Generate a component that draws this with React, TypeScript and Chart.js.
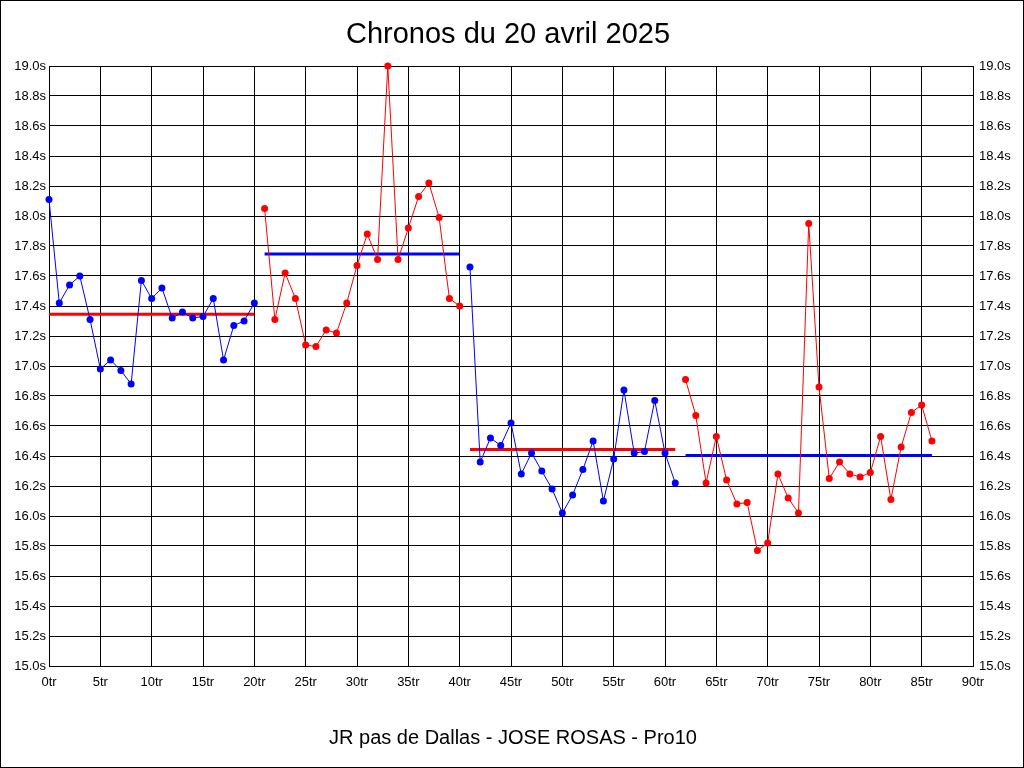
import React, { useEffect, useRef } from "react";
import { Chart, registerables } from "chart.js";

Chart.register(...registerables);

const chartTitle = "Chronos du 20 avril 2025";
const chartSubtitle = "JR pas de Dallas - JOSE ROSAS - Pro10";

// Lap times (seconds), one array per stint
const stintStartLaps = [0, 21, 41, 62];
const stint1Times = [18.11, 17.42, 17.54, 17.6, 17.31, 16.98, 17.04, 16.97, 16.88, 17.57, 17.45, 17.52, 17.32, 17.36, 17.32, 17.33, 17.45, 17.04, 17.27, 17.3, 17.42];
const stint2Times = [18.05, 17.31, 17.62, 17.45, 17.14, 17.13, 17.24, 17.22, 17.42, 17.67, 17.88, 17.71, 19.0, 17.71, 17.92, 18.13, 18.22, 17.99, 17.45, 17.4];
const stint3Times = [17.66, 16.36, 16.52, 16.47, 16.62, 16.28, 16.42, 16.3, 16.18, 16.02, 16.14, 16.31, 16.5, 16.1, 16.38, 16.84, 16.42, 16.43, 16.77, 16.42, 16.22];
const stint4Times = [16.91, 16.67, 16.22, 16.53, 16.24, 16.08, 16.09, 15.77, 15.82, 16.28, 16.12, 16.02, 17.95, 16.86, 16.25, 16.36, 16.28, 16.26, 16.29, 16.53, 16.11, 16.46, 16.69, 16.74, 16.5];
const stintAverages = [17.345, 17.747, 16.444, 16.404];
const stintColors = ["#0000FF", "#FF0000", "#0000FF", "#FF0000"];
const averageColors = ["#FF0000", "#0000FF", "#FF0000", "#0000FF"];

const xMin = 0;
const xMax = 90;
const xStep = 5;
const yMin = 15;
const yMax = 19;
const yStep = 0.2;

const FONT = "'Liberation Sans', Arial, sans-serif";

export default function App() {
  const ref = useRef<HTMLCanvasElement | null>(null);

  useEffect(() => {
    document.body.style.margin = "0";
    const canvas = ref.current;
    if (!canvas) return;

    const stints = [stint1Times, stint2Times, stint3Times, stint4Times];
    const datasets: any[] = [];
    stints.forEach((times, s) => {
      const start = stintStartLaps[s];
      datasets.push({
        label: "stint" + (s + 1),
        data: times.map((t, i) => ({ x: start + i, y: t })),
        borderColor: stintColors[s],
        backgroundColor: stintColors[s],
        borderWidth: 1,
        pointRadius: 3.5,
        pointBorderWidth: 0,
        pointBackgroundColor: stintColors[s],
        tension: 0,
        clip: false,
        order: 1,
      });
    });
    stints.forEach((times, s) => {
      const start = stintStartLaps[s];
      const end = start + times.length - 1;
      datasets.push({
        label: "avg" + (s + 1),
        data: [
          { x: start, y: stintAverages[s] },
          { x: end, y: stintAverages[s] },
        ],
        borderColor: averageColors[s],
        backgroundColor: averageColors[s],
        borderWidth: 3,
        pointRadius: 0,
        tension: 0,
        order: 2,
      });
    });

    const textPlugin = {
      id: "texts",
      afterDraw(chart: any) {
        const ctx = chart.ctx;
        ctx.save();
        ctx.fillStyle = "#000";
        ctx.textAlign = "center";
        ctx.textBaseline = "alphabetic";
        ctx.font = "29px " + FONT;
        ctx.fillText(chartTitle, 508, 43);
        ctx.font = "20px " + FONT;
        ctx.fillText(chartSubtitle, 513, 744);
        ctx.strokeStyle = "#000";
        ctx.lineWidth = 1;
        ctx.strokeRect(0.5, 0.5, 1023, 767);
        ctx.restore();
      },
    };
    const bgPlugin = {
      id: "bg",
      beforeDraw(chart: any) {
        const ctx = chart.ctx;
        ctx.save();
        ctx.fillStyle = "#fff";
        ctx.fillRect(0, 0, chart.width, chart.height);
        ctx.restore();
      },
    };

    const chart = new Chart(canvas, {
      type: "line",
      data: { datasets },
      options: {
        animation: false,
        responsive: false,
        maintainAspectRatio: false,
        layout: { padding: { top: 66, left: 0, right: 0, bottom: 0 } },
        plugins: {
          legend: { display: false },
          title: { display: false },
          tooltip: { enabled: false },
        },
        scales: {
          x: {
            type: "linear",
            min: xMin,
            max: xMax,
            afterFit(scale: any) {
              scale.height = 102;
            },
            ticks: {
              stepSize: xStep,
              color: "#000",
              font: { family: FONT, size: 13 },
              padding: 9,
              maxRotation: 0,
              autoSkip: false,
              callback: (v: any) => v + "tr",
            },
            grid: { color: "#000", lineWidth: 1, drawTicks: false },
            border: { color: "#000", width: 1 },
          },
          y: {
            type: "linear",
            position: "left",
            min: yMin,
            max: yMax,
            afterFit(scale: any) {
              scale.width = 49;
            },
            ticks: {
              stepSize: yStep,
              color: "#000",
              font: { family: FONT, size: 13 },
              padding: 3,
              autoSkip: false,
              callback: (v: any) => Number(v).toFixed(1) + "s",
            },
            grid: { color: "#000", lineWidth: 1, drawTicks: false },
            border: { color: "#000", width: 1 },
          },
          y2: {
            type: "linear",
            position: "right",
            min: yMin,
            max: yMax,
            afterFit(scale: any) {
              scale.width = 51;
            },
            ticks: {
              stepSize: yStep,
              color: "#000",
              font: { family: FONT, size: 13 },
              padding: 6,
              autoSkip: false,
              callback: (v: any) => Number(v).toFixed(1) + "s",
            },
            grid: { drawOnChartArea: false, drawTicks: false },
            border: { color: "#000", width: 1 },
          },
        },
      } as any,
      plugins: [bgPlugin, textPlugin],
    });

    return () => chart.destroy();
  }, []);

  return (
    <div style={{ width: 1024, height: 768 }}>
      <canvas ref={ref} width={1024} height={768} style={{ display: "block", width: 1024, height: 768 }} />
    </div>
  );
}
